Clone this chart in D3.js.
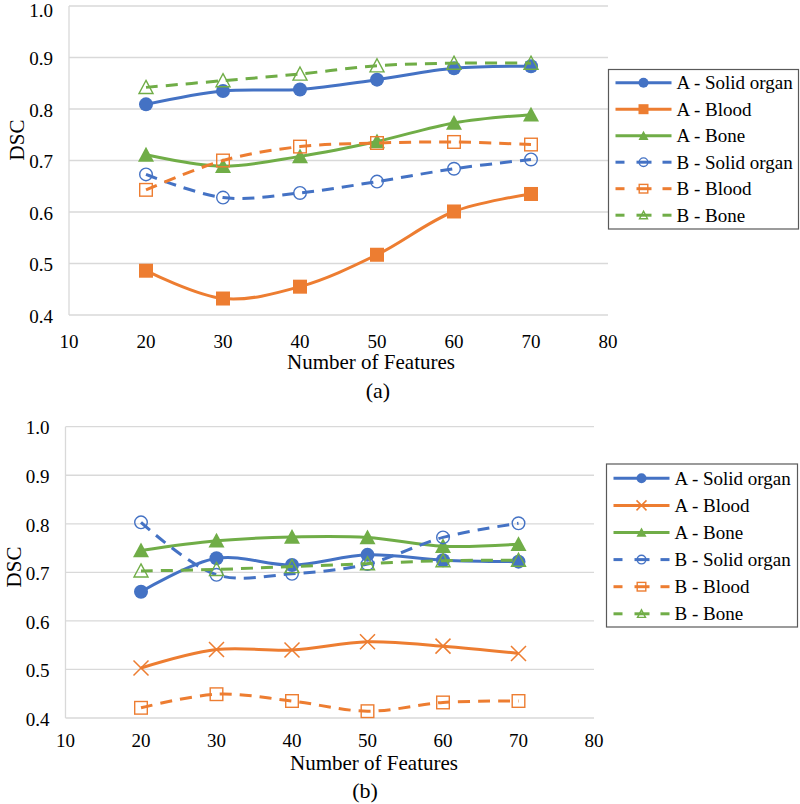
<!DOCTYPE html>
<html><head><meta charset="utf-8">
<script src="https://cdn.jsdelivr.net/npm/d3@7"></script>
<style>body{margin:0;background:#fff}svg{display:block}</style>
</head><body>
<svg id="c" width="800" height="804" font-family="'Liberation Serif', 'Times New Roman', 'DejaVu Serif', serif"></svg>
<script>
const features = [20, 30, 40, 50, 60, 70];
const xTicks = [10, 20, 30, 40, 50, 60, 70, 80];
const yTicks = [0.4, 0.5, 0.6, 0.7, 0.8, 0.9, 1.0];
const seriesNames = ["A - Solid organ", "A - Blood", "A - Bone", "B - Solid organ", "B - Blood", "B - Bone"];

// chart (a)
const aSolidA = [0.809, 0.835, 0.838, 0.857, 0.879, 0.883];
const aBloodA = [0.486, 0.432, 0.455, 0.517, 0.601, 0.635];
const aBoneA  = [0.711, 0.689, 0.708, 0.737, 0.773, 0.789];
const bSolidA = [0.673, 0.628, 0.637, 0.659, 0.684, 0.702];
const bBloodA = [0.643, 0.700, 0.727, 0.734, 0.736, 0.731];
const bBoneA  = [0.842, 0.855, 0.868, 0.884, 0.889, 0.889];
// chart (b)
const aSolidB = [0.660, 0.729, 0.715, 0.736, 0.725, 0.722];
const aBloodB = [0.503, 0.541, 0.540, 0.557, 0.548, 0.533];
const aBoneB  = [0.745, 0.765, 0.773, 0.772, 0.754, 0.758];
const bSolidB = [0.803, 0.695, 0.697, 0.717, 0.772, 0.801];
const bBloodB = [0.421, 0.449, 0.435, 0.414, 0.432, 0.435];
const bBoneB  = [0.703, 0.706, 0.712, 0.718, 0.724, 0.725];

const BLUE = "#4472C4", ORANGE = "#ED7D31", GREEN = "#70AD47";
const FONT = "'Liberation Serif', 'Times New Roman', 'DejaVu Serif', serif";
const svg = d3.select("#c");

function marker(g, type, color, x, y, s) {
  const h = s / 2;
  if (type === "circle") g.append("circle").attr("cx", x).attr("cy", y).attr("r", h).attr("fill", color);
  else if (type === "ocircle") g.append("circle").attr("cx", x).attr("cy", y).attr("r", h - 0.7).attr("fill", "none").attr("stroke", color).attr("stroke-width", 1.4);
  else if (type === "square") g.append("rect").attr("x", x - h).attr("y", y - h).attr("width", s).attr("height", s).attr("fill", color);
  else if (type === "osquare") g.append("rect").attr("x", x - h + 0.7).attr("y", y - h + 0.7).attr("width", s - 1.4).attr("height", s - 1.4).attr("fill", "none").attr("stroke", color).attr("stroke-width", 1.4);
  else if (type === "tri") g.append("path").attr("d", `M${x},${y - h}L${x + h},${y + h * 0.85}L${x - h},${y + h * 0.85}Z`).attr("fill", color);
  else if (type === "otri") g.append("path").attr("d", `M${x},${y - h + 1}L${x + h - 1},${y + h * 0.85 - 0.7}L${x - h + 1},${y + h * 0.85 - 0.7}Z`).attr("fill", "none").attr("stroke", color).attr("stroke-width", 1.4);
  else if (type === "x") g.append("path").attr("d", `M${x - h},${y - h}L${x + h},${y + h}M${x - h},${y + h}L${x + h},${y - h}`).attr("stroke", color).attr("stroke-width", 1.5).attr("fill", "none");
}

function txt(g) { return g.append("text").attr("font-family", FONT).attr("fill", "#000"); }

function chart(cfg) {
  const x = d3.scaleLinear().domain([10, 80]).range([cfg.left, cfg.right]);
  const y = d3.scaleLinear().domain([0.4, 1.0]).range([cfg.bottom, cfg.top]);
  const g = svg.append("g");
  g.append("g").selectAll("line").data(yTicks).join("line")
    .attr("x1", cfg.left).attr("x2", cfg.right).attr("y1", d => y(d)).attr("y2", d => y(d))
    .attr("stroke", "#d9d9d9").attr("stroke-width", 1.3);
  g.append("line").attr("x1", cfg.left).attr("x2", cfg.left).attr("y1", cfg.top).attr("y2", cfg.bottom)
    .attr("stroke", "#d9d9d9").attr("stroke-width", 1.3);
  g.append("g").selectAll("text").data(yTicks).join("text")
    .attr("font-family", FONT).attr("fill", "#000")
    .attr("x", cfg.left - 16).attr("y", d => Math.max(y(d) + 1.5, 11)).attr("text-anchor", "end").attr("dy", "0.33em")
    .attr("font-size", 19).text(d => d.toFixed(1));
  g.append("g").selectAll("text").data(xTicks).join("text")
    .attr("font-family", FONT).attr("fill", "#000")
    .attr("x", d => x(d)).attr("y", cfg.tickY).attr("text-anchor", "middle")
    .attr("font-size", 19).text(d => d);
  txt(g).attr("x", cfg.titleX).attr("y", cfg.titleY).attr("text-anchor", "middle").attr("font-size", 21).text("Number of Features");
  txt(g).attr("transform", `translate(${cfg.dscX},${cfg.dscY}) rotate(-90)`).attr("text-anchor", "middle").attr("dy", "0.35em").attr("font-size", 21).text("DSC");
  txt(g).attr("x", cfg.capX).attr("y", cfg.capY).attr("text-anchor", "middle").attr("font-size", 22).text(cfg.caption);

  const line = d3.line().x((d, i) => x(features[i])).y(d => y(d)).curve(d3.curveCatmullRom.alpha(0.5));
  cfg.series.forEach(s => {
    const sg = g.append("g");
    sg.append("path").attr("d", line(s.values)).attr("fill", "none").attr("stroke", s.color)
      .attr("stroke-width", 3).attr("stroke-dasharray", s.dashed ? "12,8" : null);
    s.values.forEach((v, i) => marker(sg, s.marker, s.color, x(features[i]), y(v), s.size));
  });

  const lg = g.append("g");
  lg.append("rect").attr("x", cfg.lgX).attr("y", cfg.lgY).attr("width", cfg.lgW).attr("height", cfg.lgH)
    .attr("fill", "#fff").attr("stroke", "#595959").attr("stroke-width", 1.2);
  cfg.series.forEach((s, i) => {
    const ry = cfg.lgRow0 + i * cfg.lgStep;
    const x0 = cfg.lgX + 7, x1 = x0 + 56, xm = (x0 + x1) / 2;
    if (s.dashed) {
      [[x0, x0 + 9], [x0 + 21, x0 + 36], [x1 - 9, x1]].forEach(sg =>
        lg.append("line").attr("x1", sg[0]).attr("x2", sg[1]).attr("y1", ry).attr("y2", ry).attr("stroke", s.color).attr("stroke-width", 3));
    } else {
      lg.append("line").attr("x1", x0).attr("x2", x1).attr("y1", ry).attr("y2", ry).attr("stroke", s.color).attr("stroke-width", 3);
    }
    marker(lg, s.marker, s.color, xm, ry, 10);
    txt(lg).attr("x", cfg.lgX + 68).attr("y", ry).attr("dy", "0.35em").attr("font-size", 19).text(s.name);
  });
}

chart({
  left: 69, right: 608, top: 6, bottom: 315, tickY: 348,
  titleX: 371, titleY: 369, dscX: 17, dscY: 140, capX: 378, capY: 398, caption: "(a)",
  lgX: 608.5, lgY: 69.5, lgW: 190, lgH: 159.5, lgRow0: 82.7, lgStep: 26.5,
  series: [
    { name: seriesNames[0], values: aSolidA, color: BLUE, marker: "circle", size: 14, dashed: false },
    { name: seriesNames[1], values: aBloodA, color: ORANGE, marker: "square", size: 14, dashed: false },
    { name: seriesNames[2], values: aBoneA, color: GREEN, marker: "tri", size: 16, dashed: false },
    { name: seriesNames[3], values: bSolidA, color: BLUE, marker: "ocircle", size: 14, dashed: true },
    { name: seriesNames[4], values: bBloodA, color: ORANGE, marker: "osquare", size: 14, dashed: true },
    { name: seriesNames[5], values: bBoneA, color: GREEN, marker: "otri", size: 16, dashed: true }
  ]
});

chart({
  left: 65.5, right: 594, top: 426.7, bottom: 718, tickY: 747,
  titleX: 374, titleY: 770, dscX: 14, dscY: 567, capX: 365, capY: 798, caption: "(b)",
  lgX: 606.5, lgY: 464, lgW: 191, lgH: 163, lgRow0: 478.3, lgStep: 27.1,
  series: [
    { name: seriesNames[0], values: aSolidB, color: BLUE, marker: "circle", size: 14, dashed: false },
    { name: seriesNames[1], values: aBloodB, color: ORANGE, marker: "x", size: 15, dashed: false },
    { name: seriesNames[2], values: aBoneB, color: GREEN, marker: "tri", size: 16, dashed: false },
    { name: seriesNames[3], values: bSolidB, color: BLUE, marker: "ocircle", size: 14, dashed: true },
    { name: seriesNames[4], values: bBloodB, color: ORANGE, marker: "osquare", size: 14, dashed: true },
    { name: seriesNames[5], values: bBoneB, color: GREEN, marker: "otri", size: 16, dashed: true }
  ]
});
</script>
</body></html>
